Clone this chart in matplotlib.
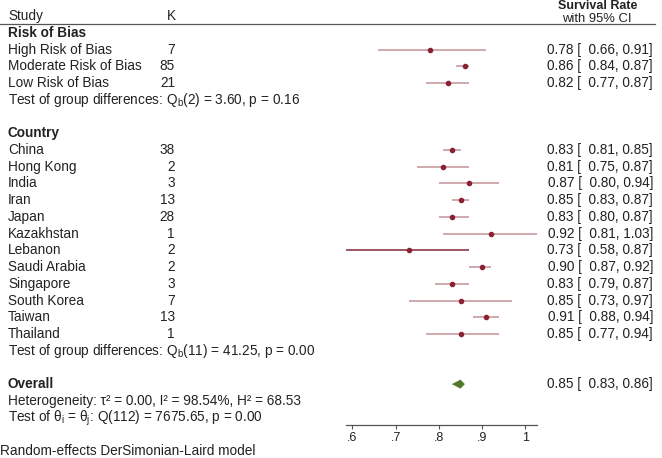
import matplotlib
matplotlib.use("Agg")
import matplotlib.pyplot as plt
from matplotlib.transforms import blended_transform_factory
from matplotlib.lines import Line2D

plt.rcParams['font.family'] = ['Liberation Sans', 'DejaVu Sans']
plt.rcParams['mathtext.fontset'] = 'custom'
plt.rcParams['mathtext.rm'] = 'Liberation Sans'
plt.rcParams['mathtext.it'] = 'Liberation Sans:italic'
plt.rcParams['mathtext.bf'] = 'Liberation Sans:bold'

# ---- data ----
rob_labels = ["High Risk of Bias", "Moderate Risk of Bias", "Low Risk of Bias"]
rob_k = [7, 85, 21]
rob_est = [0.78, 0.86, 0.82]
rob_lo = [0.66, 0.84, 0.77]
rob_hi = [0.91, 0.87, 0.87]

country_labels = ["China", "Hong Kong", "India", "Iran", "Japan", "Kazakhstan",
                  "Lebanon", "Saudi Arabia", "Singapore", "South Korea", "Taiwan", "Thailand"]
country_k = [38, 2, 3, 13, 28, 1, 2, 2, 3, 7, 13, 1]
country_est = [0.83, 0.81, 0.87, 0.85, 0.83, 0.92, 0.73, 0.90, 0.83, 0.85, 0.91, 0.85]
country_lo = [0.81, 0.75, 0.80, 0.83, 0.80, 0.81, 0.58, 0.87, 0.79, 0.73, 0.88, 0.77]
country_hi = [0.85, 0.87, 0.94, 0.87, 0.87, 1.03, 0.87, 0.92, 0.87, 0.97, 0.94, 0.94]

overall_est = 0.85
overall_lo = 0.83
overall_hi = 0.86

xticks = [0.6, 0.7, 0.8, 0.9, 1.0]
xtick_labels = [".6", ".7", ".8", ".9", "1"]

rob_test = "Test of group differences: Q$_\\mathrm{b}$(2) = 3.60, p = 0.16"
country_test = "Test of group differences: Q$_\\mathrm{b}$(11) = 41.25, p = 0.00"
het_text = "Heterogeneity: τ² = 0.00, I² = 98.54%, H² = 68.53"
theta_text = "Test of θ$_\\mathrm{i}$ = θ$_\\mathrm{j}$: Q(112) = 7675.65, p = 0.00"
footnote = "Random-effects DerSimonian-Laird model"

# ---- figure ----
W, H = 662, 458
fig = plt.figure(figsize=(W / 100, H / 100), dpi=100)

ROW0 = 33.0
STEP = 16.72
def row_of(px):
    return (px - ROW0) / STEP

ax_left, ax_right = 346, 537
ax_top, ax_bot = 24, 425
ax = fig.add_axes([ax_left / W, 1 - ax_bot / H, (ax_right - ax_left) / W, (ax_bot - ax_top) / H])
ax.set_xlim(0.585, 1.027)
ax.set_ylim(row_of(ax_bot), row_of(ax_top))
for s in ['top', 'right', 'left']:
    ax.spines[s].set_visible(False)
ax.spines['bottom'].set_color('#555555')
ax.spines['bottom'].set_linewidth(0.9)
ax.set_yticks([])
ax.set_xticks(xticks)
ax.set_xticklabels(xtick_labels, fontsize=9, color='#222222')
ax.tick_params(axis='x', length=3, width=0.8, color='#555555', pad=2)
ax.patch.set_alpha(0)

tr = blended_transform_factory(fig.transFigure, ax.transData)
FS = 9.8
TXT = '#222222'
def put(xpx, row, s, **kw):
    kw.setdefault('fontsize', FS)
    kw.setdefault('color', TXT)
    ax.text(xpx / W, row, s, transform=tr, va='center', clip_on=False, **kw)

line_col = '#9a4a56'
dot_col = '#8a2232'

def fmt(est, lo, hi):
    return f"{est:.2f} [  {lo:.2f}, {hi:.2f}]"

def draw_row(row, label, k, est, lo, hi, dark=False):
    put(8, row, label)
    put(175, row, str(k), ha='right')
    ax.plot([lo, hi], [row, row], color=('#7a1e2c' if dark else line_col),
            alpha=(0.95 if dark else 0.6), lw=1.1, solid_capstyle='butt')
    ax.plot([est], [row], 'o', color=dot_col, ms=3.0, mec=dot_col)
    put(653, row, fmt(est, lo, hi), ha='right')

# header
put(8, row_of(16), "Study")
put(167, row_of(16), "K")
put(598, row_of(6), "Survival Rate", ha='center', fontweight='bold', fontsize=9)
put(597, row_of(18.5), "with 95% CI", ha='center', fontsize=9.4)
fig.add_artist(Line2D([0, 655 / W], [1 - 24 / H, 1 - 24 / H], color='#555555', lw=0.9))

r = 0
put(8, r, "Risk of Bias", fontweight='bold')
for i in range(len(rob_labels)):
    r += 1
    draw_row(r, rob_labels[i], rob_k[i], rob_est[i], rob_lo[i], rob_hi[i])
r += 1
put(8, r, rob_test)
r += 2
put(8, r, "Country", fontweight='bold')
for i in range(len(country_labels)):
    r += 1
    draw_row(r, country_labels[i], country_k[i], country_est[i], country_lo[i], country_hi[i],
             dark=(country_labels[i] == "Lebanon"))
r += 1
put(8, r, country_test)
r += 2
put(8, r, "Overall", fontweight='bold')
dh = 0.27
ax.fill([overall_lo, overall_est, overall_hi, overall_est],
        [r, r - dh, r, r + dh], color='#4e7a2a', lw=0)
put(653, r, fmt(overall_est, overall_lo, overall_hi), ha='right')
r += 1
put(8, r, het_text)
r += 1
put(8, r + 0.05, theta_text)

fig.text(0 / W, 1 - 451 / H, footnote, fontsize=9.8, color=TXT, va='center')

fig.savefig("out.png", dpi=100)
